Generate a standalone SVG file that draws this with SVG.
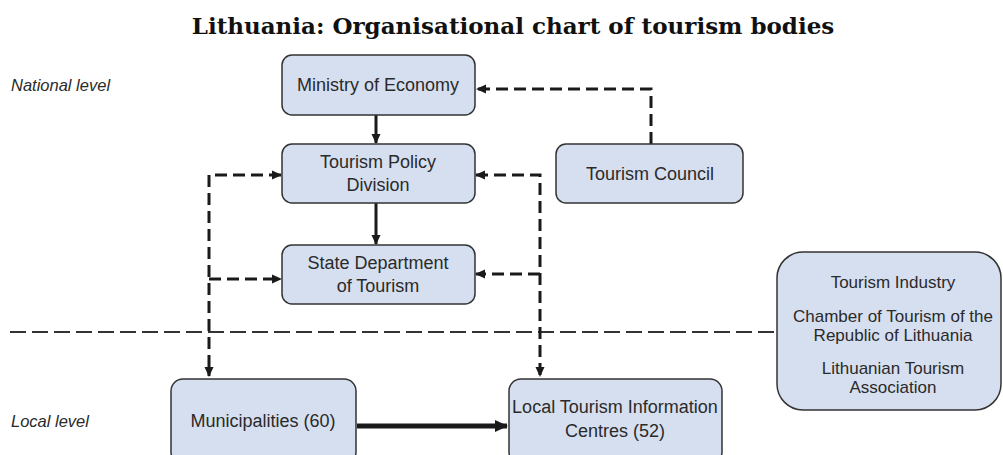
<svg xmlns="http://www.w3.org/2000/svg" width="1003" height="455" viewBox="0 0 1003 455">
<defs>
<style>
.box{fill:#d6dff0;stroke:#333;stroke-width:1.5}
.t{font-family:"Liberation Sans",Arial,sans-serif;font-size:18px;fill:#2a2a2a;text-anchor:middle}
.ti{font-size:17px}
.lvl{font-family:"Liberation Sans",Arial,sans-serif;font-size:16.5px;font-style:italic;fill:#2a2a2a}
.title{font-family:"DejaVu Serif",serif;font-weight:bold;font-size:23px;fill:#111;text-anchor:middle}
.solid{fill:none;stroke:#1a1a1a;stroke-width:3}
.dash{fill:none;stroke:#1a1a1a;stroke-width:3;stroke-dasharray:12 6}
.thick{fill:none;stroke:#1a1a1a;stroke-width:5}
.div{fill:none;stroke:#333;stroke-width:2;stroke-dasharray:16 6}
</style>
<marker id="ah" markerUnits="userSpaceOnUse" markerWidth="10" markerHeight="10" refX="9" refY="5" orient="auto-start-reverse">
<path d="M0,0.5 L10,5 L0,9.5 z" fill="#1a1a1a"/>
</marker>
<marker id="ahb" markerUnits="userSpaceOnUse" markerWidth="13" markerHeight="12" refX="12" refY="6" orient="auto">
<path d="M0,0 L13,6 L0,12 z" fill="#1a1a1a"/>
</marker>
</defs>
<rect width="1003" height="455" fill="#fff"/>
<text class="title" x="513" y="34">Lithuania: Organisational chart of tourism bodies</text>
<text class="lvl" x="11" y="91">National level</text>
<text class="lvl" x="11" y="427">Local level</text>
<g id="connectors">
<path class="div" d="M10,332 H776"/>
<path class="solid" d="M376,115 V143" marker-end="url(#ah)"/>
<path class="solid" d="M376,203 V244" marker-end="url(#ah)"/>
<path class="dash" d="M651,144 V89 H477" marker-end="url(#ah)"/>
<path class="dash" d="M281,175 H209 V376" marker-start="url(#ah)" marker-end="url(#ah)"/>
<path class="dash" d="M209,279 H281" marker-end="url(#ah)"/>
<path class="dash" d="M476,175 H540 V376" marker-start="url(#ah)" marker-end="url(#ah)"/>
<path class="dash" d="M540,274 H476" marker-end="url(#ah)"/>
<path class="thick" d="M357,426 H507" marker-end="url(#ahb)"/>
</g>
<g id="ministry">
<rect class="box" x="282" y="55" width="193" height="60" rx="10"/>
<text class="t" x="378" y="91">Ministry of Economy</text>
</g>
<g id="policy">
<rect class="box" x="282" y="144" width="193" height="59" rx="10"/>
<text class="t" x="378" y="168">Tourism Policy</text>
<text class="t" x="378" y="191">Division</text>
</g>
<g id="state">
<rect class="box" x="282" y="245" width="193" height="59" rx="10"/>
<text class="t" x="378" y="269">State Department</text>
<text class="t" x="378" y="292">of Tourism</text>
</g>
<g id="council">
<rect class="box" x="556" y="144" width="187" height="59" rx="10"/>
<text class="t" x="650" y="180">Tourism Council</text>
</g>
<g id="industry">
<rect class="box" x="777" y="252" width="224" height="158" rx="26"/>
<text class="t ti" x="893" y="288">Tourism Industry</text>
<text class="t ti" x="893" y="322">Chamber of Tourism of the</text>
<text class="t ti" x="893" y="341">Republic of Lithuania</text>
<text class="t ti" x="893" y="374">Lithuanian Tourism</text>
<text class="t ti" x="893" y="393">Association</text>
</g>
<g id="municipalities">
<rect class="box" x="171" y="379" width="185" height="85" rx="12"/>
<text class="t" x="263" y="427">Municipalities (60)</text>
</g>
<g id="local">
<rect class="box" x="509" y="379" width="213" height="85" rx="12"/>
<text class="t" x="615" y="413">Local Tourism Information</text>
<text class="t" x="615" y="437">Centres (52)</text>
</g>
</svg>
